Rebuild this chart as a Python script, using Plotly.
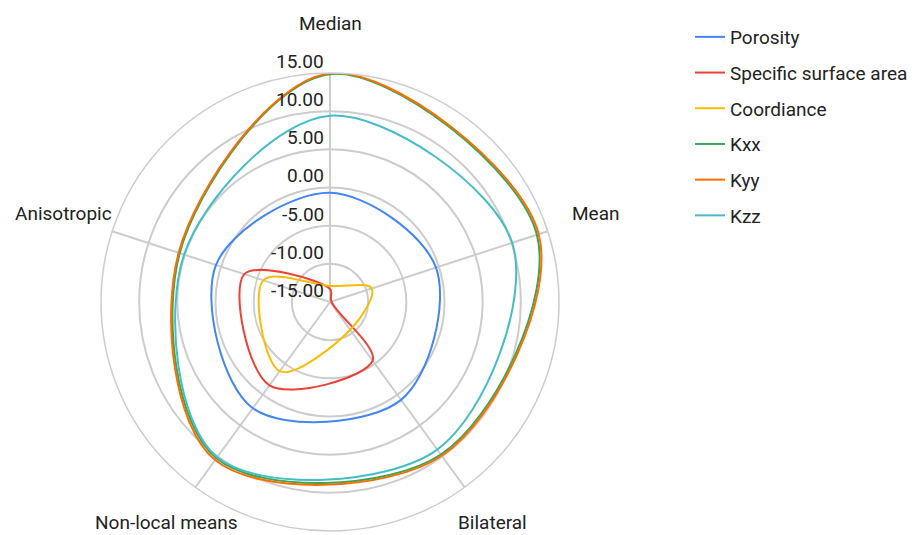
import plotly.graph_objects as go

categories = ["Median", "Mean", "Bilateral", "Non-local means", "Anisotropic"]

porosity = [-0.7, -0.4, 0.85, 2.2, 0.7]
specific_surface_area = [-13.3, -14.8, -5.5, -1.5, -3.2]
coordiance = [-12.9, -9.25, -10.5, -3.8, -5.8]
kxx = [14.85, 13.5, 9.7, 10.3, 5.7]
kyy = [14.95, 13.75, 9.9, 10.6, 5.85]
kzz = [9.4, 10.1, 8.9, 10.15, 5.1]

series_names = ["Porosity", "Specific surface area", "Coordiance", "Kxx", "Kyy", "Kzz"]
series_values = [porosity, specific_surface_area, coordiance, kxx, kyy, kzz]
series_colors = ["#4285F4", "#EA4335", "#FBBC04", "#34A853", "#FF6D01", "#46BDC6"]

radial_ticks = [-15, -10, -5, 0, 5, 10, 15]
radial_tick_labels = ["-15.00", "-10.00", "-5.00", "0.00", "5.00", "10.00", "15.00"]

W, H = 918, 535
CX, CY, R = 330, 302, 229
RMIN, RMAX = -15, 15
FONT = "Roboto, 'Noto Sans', Arial, sans-serif"
TXT = "#222222"
GRID = "#cccccc"

fig = go.Figure()
for name, vals, col in zip(series_names, series_values, series_colors):
    fig.add_trace(go.Scatterpolar(
        r=vals + vals[:1],
        theta=categories + categories[:1],
        mode="lines",
        name=name,
        legendgroup=name,
        line=dict(color=col, width=2, shape="spline", smoothing=1.0),
        hoverinfo="name+r+theta",
    ))

annotations = []
# radial tick labels (placed just above each grid circle, left of the vertical spoke)
for v, lab in zip(radial_ticks, radial_tick_labels):
    py = CY - (v - RMIN) / (RMAX - RMIN) * R - 11.5
    annotations.append(dict(
        x=326 / W, y=1 - py / H, xref="paper", yref="paper",
        xanchor="right", yanchor="middle", showarrow=False,
        text=lab, font=dict(family=FONT, size=19, color=TXT)))

# category labels
cat_pos = [(330, 24, "center"), (570, 213, "left"), (492, 522, "center"),
           (166, 522, "center"), (114, 213, "right")]
for cat, (px, py, anc) in zip(categories, cat_pos):
    annotations.append(dict(
        x=px / W, y=1 - py / H, xref="paper", yref="paper",
        xanchor=anc, yanchor="middle", showarrow=False,
        text=cat, font=dict(family=FONT, size=19, color=TXT)))

fig.update_layout(
    width=W, height=H,
    margin=dict(l=0, r=0, t=0, b=0),
    paper_bgcolor="white",
    plot_bgcolor="white",
    font=dict(family=FONT, size=19, color=TXT),
    polar=dict(
        domain=dict(x=[(CX - R) / W, (CX + R) / W],
                    y=[(H - CY - R) / H, (H - CY + R) / H]),
        bgcolor="white",
        radialaxis=dict(
            range=[RMIN, RMAX], tickvals=radial_ticks,
            showticklabels=False, ticks="", showline=False,
            gridcolor=GRID, gridwidth=1.5, angle=90,
        ),
        angularaxis=dict(
            type="category", categoryarray=categories,
            direction="clockwise", rotation=90,
            showticklabels=False, ticks="",
            gridcolor=GRID, gridwidth=1.5,
            linecolor=GRID, linewidth=1.5, showline=True,
        ),
    ),
    legend=dict(
        x=690 / W, y=1 - 18 / H, xanchor="left", yanchor="top",
        font=dict(family=FONT, size=19, color=TXT),
        tracegroupgap=8, bgcolor="rgba(0,0,0,0)",
    ),
    annotations=annotations,
    showlegend=True,
)

fig.write_html(
    "out.html",
    config={"displayModeBar": False},
    post_script="document.body.style.margin='0';document.body.style.overflow='hidden';",
)
